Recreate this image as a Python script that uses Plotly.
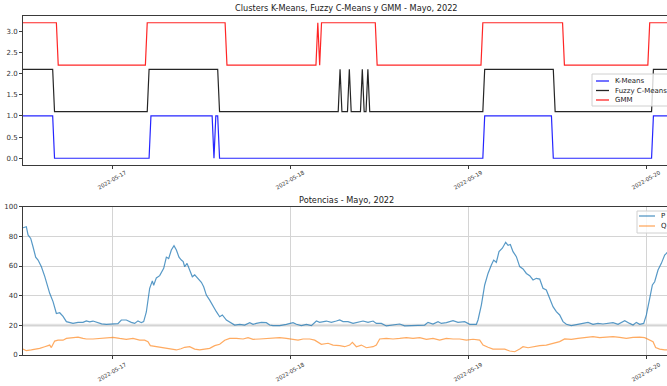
import pandas as pd
import plotly.graph_objects as go

# ---------------- data ----------------
START = "2022-05-16 12:00"
END = "2022-05-20 03:00"
FREQ = "15min"

day_ticks = ["2022-05-17", "2022-05-18", "2022-05-19", "2022-05-20"]

# cluster labels given as change points (time, new label)
kmeans_change_times = ["2022-05-16 12:00", "2022-05-16 16:15", "2022-05-17 05:15",
                       "2022-05-17 13:45", "2022-05-17 14:00", "2022-05-17 14:30",
                       "2022-05-19 02:15", "2022-05-19 11:30", "2022-05-20 01:00"]
kmeans_labels = [1, 0, 1, 0, 1, 0, 1, 0, 1]

fuzzy_change_times = ["2022-05-16 12:00", "2022-05-16 16:15", "2022-05-17 05:00",
                      "2022-05-17 14:30", "2022-05-18 06:45", "2022-05-18 07:00",
                      "2022-05-18 08:00", "2022-05-18 08:15", "2022-05-18 09:45",
                      "2022-05-18 10:00", "2022-05-18 10:30", "2022-05-18 10:45",
                      "2022-05-19 02:15", "2022-05-19 11:45", "2022-05-20 01:00"]
fuzzy_labels = [1, 0, 1, 0, 1, 0, 1, 0, 1, 0, 1, 0, 1, 0, 1]

gmm_change_times = ["2022-05-16 12:00", "2022-05-16 16:45", "2022-05-17 04:45",
                    "2022-05-17 15:30", "2022-05-18 03:45", "2022-05-18 04:00",
                    "2022-05-18 04:15", "2022-05-18 11:45", "2022-05-19 02:00",
                    "2022-05-19 13:00", "2022-05-20 00:30"]
gmm_labels = [1, 0, 1, 0, 1, 0, 1, 0, 1, 0, 1]

kmeans_offset = 0.0
fuzzy_offset = 1.1
gmm_offset = 2.2

# power series: hours after START and values
p_hours = [0.0, 0.45, 0.68, 1.04, 1.35, 1.71, 2.03, 2.48, 2.93, 3.6, 4.05, 4.5, 4.95, 5.4,
           5.85, 6.74, 7.42, 8.09, 8.54, 8.99, 9.44, 10.1, 10.6, 11.24, 12.14, 12.8, 13.26,
           13.93, 14.6, 15.06, 15.5, 15.96, 16.27, 16.63, 17.08, 17.44, 17.62, 17.98, 18.43,
           18.97, 19.33, 19.64, 20.0, 20.36, 20.68, 21.03, 21.35, 21.6, 21.8, 22.12, 22.47,
           22.83, 23.15, 23.6, 24.05, 24.36, 24.72, 25.17, 25.62, 26.07, 26.52, 26.88, 27.42,
           28.09, 28.54, 29.22, 29.89, 30.57, 31.02, 31.46, 32.14, 32.81, 33.26, 33.71, 34.61,
           35.51, 36.41, 36.86, 37.53, 38.21, 38.88, 39.56, 40.0, 40.9, 41.58, 42.25, 42.7,
           43.15, 43.82, 44.5, 45.17, 45.85, 46.52, 47.2, 47.64, 48.32, 48.99, 49.89, 50.79,
           51.46, 52.36, 53.26, 54.16, 54.61, 55.28, 55.96, 56.41, 57.08, 57.76, 57.98, 58.65,
           59.55, 60.23, 61.13, 61.35, 61.8, 62.25, 62.7, 63.15, 63.46, 63.82, 64.18, 64.63,
           64.72, 65.08, 65.4, 65.71, 66.07, 66.52, 66.97, 67.42, 67.87, 68.32, 68.77, 69.22,
           69.67, 70.11, 70.56, 71.01, 71.46, 71.91, 72.36, 72.81, 73.26, 73.93, 74.83, 75.51,
           76.18, 76.85, 77.53, 78.2, 78.88, 79.55, 80.23, 81.13, 81.8, 82.25, 82.7, 83.15,
           83.69, 84.05, 84.5, 84.86, 85.17, 85.62, 86.07, 86.52, 86.75, 87.0]
p_values = [85.8, 86.5, 81, 78.6, 73, 66, 64, 59.5, 53, 41.6, 36, 28, 28.5, 26,
            22.5, 21.3, 22, 22, 23, 22.4, 22.9, 22, 21, 20.7, 20.7, 21.1, 23.6,
            23.6, 22, 21.3, 23, 21.8, 22.5, 29, 45, 50, 47, 52, 53.5,
            58.4, 66, 65, 70.8, 73.7, 70.8, 66, 64, 63, 59.5, 61.8, 57.3,
            52.8, 54, 51.7, 49, 46, 40.4, 37, 32.6, 29.2, 25.8, 27, 23.6,
            21.3, 20.2, 20.7, 20.2, 21.8, 20.7, 21.3, 22, 21.8, 20.2, 19.8, 19.8,
            20.7, 21.8, 20.7, 19.8, 20.7, 19.8, 22.9, 22, 22.9, 22, 22.9, 23.6,
            22.5, 22.5, 21.3, 22, 22.9, 22, 22.9, 21.3, 21.3, 19.6, 20.2, 20.9,
            19.6, 19.8, 20.2, 20.2, 22, 20.9, 22.5, 21.3, 21.8, 22.5, 23.1, 22,
            22.5, 20.7, 20.7, 23.6, 33.7, 47.2, 55, 60.7, 64, 62.5, 69.7, 72,
            73, 76, 74, 74.5, 69.7, 66.3, 59.6, 58, 55, 53.5, 50.6, 51.7,
            51.2, 45, 43.8, 38.2, 32.6, 29.2, 27, 22.5, 20.7, 19.8, 20.7, 21.3,
            22, 20.7, 21.3, 20.9, 21.3, 21.8, 20.7, 23.1, 21.3, 20.2, 22, 20.7,
            21.3, 27, 38.2, 47.2, 49.4, 57.3, 61.8, 67.4, 68.5, 70]

q_hours = [0.0, 0.45, 1.12, 1.8, 2.25, 2.93, 3.6, 3.82, 4.27, 4.72, 5.4, 5.85, 6.74, 7.42,
           8.09, 8.54, 9.44, 10.33, 11.24, 12.14, 13.03, 13.93, 14.83, 15.73, 16.4, 16.85,
           17.17, 17.98, 18.88, 19.78, 20.68, 21.3, 21.8, 22.47, 23.15, 23.82, 24.5, 25.17,
           25.85, 26.52, 27.2, 27.87, 28.77, 29.67, 30.34, 31.02, 31.92, 32.81, 33.71, 34.61,
           35.51, 36.41, 37.08, 37.76, 38.66, 39.33, 39.78, 40.23, 41.13, 41.8, 42.7, 43.37,
           44.05, 44.41, 44.95, 45.62, 46.3, 47.2, 47.64, 48.09, 48.99, 49.89, 50.79, 51.69,
           52.59, 53.49, 54.39, 55.28, 56.18, 57.08, 57.98, 58.88, 59.78, 60.68, 61.58, 62.03,
           62.7, 63.37, 64.27, 64.95, 65.62, 66.3, 66.97, 67.42, 68.1, 68.77, 69.67, 70.56,
           71.46, 72.36, 73.03, 73.93, 74.83, 75.51, 76.18, 76.85, 77.75, 78.65, 79.55, 80.45,
           81.35, 82.25, 83.15, 83.82, 84.5, 84.95, 85.3, 85.84, 86.52, 87.0]
q_values = [4, 2.9, 3.4, 3.8, 4.5, 5.6, 6.7, 5, 9.4, 10, 10, 11.2, 11.9, 12.1,
            11.2, 10.8, 10.8, 11.2, 11.5, 11.9, 11.2, 10.6, 11.2, 10, 10, 9,
            6.3, 5.6, 5.2, 4, 3.4, 4.2, 5.2, 5.6, 4, 3.4, 4, 4.5,
            6.3, 7.2, 10, 11.2, 11.2, 10.8, 11.7, 10.6, 10.8, 11.2, 11.7, 11.7,
            11.2, 10.8, 10, 10.8, 10.8, 10, 8.5, 7.2, 7.9, 6.7, 6.3, 5.6,
            6.7, 8.5, 5.6, 6.7, 4.9, 5.6, 6.7, 10.8, 11.2, 10.8, 11.2, 11.7,
            11.2, 11.7, 10.6, 11.2, 10, 11.2, 10.8, 10.8, 10, 10.6, 10, 6.7,
            5.2, 4, 3.9, 4, 2.7, 2.2, 4, 5.6, 4.9, 5.6, 6.3, 6.7,
            7.9, 9, 10.8, 10.6, 11.2, 11.7, 11.7, 12.4, 11.7, 12.1, 12.4, 11.9,
            11.2, 11.9, 12.1, 11.7, 10, 9, 5, 4, 3.4, 3.4]

# ---------------- build series ----------------
idx = pd.date_range(START, END, freq=FREQ)
t0 = pd.Timestamp(START)


def step_series(times, labels, offset):
    s = pd.Series(labels, index=pd.to_datetime(times)).reindex(idx).ffill()
    return s + offset


kmeans = step_series(kmeans_change_times, kmeans_labels, kmeans_offset)
fuzzy = step_series(fuzzy_change_times, fuzzy_labels, fuzzy_offset)
gmm = step_series(gmm_change_times, gmm_labels, gmm_offset)

p_time = t0 + pd.to_timedelta(p_hours, unit="h")
q_time = t0 + pd.to_timedelta(q_hours, unit="h")

# ---------------- geometry helpers (pixels -> paper) ----------------
W, H = 667, 386
ML, MR, MT, MB = 23, 0, 16, 31
PW, PH = W - ML - MR, H - MT - MB


def X(px):
    return (px - ML) / PW


def Y(py):
    return (H - MB - py) / PH


x_end = t0 + pd.Timedelta(hours=PW / 178.0 * 24)
xrange = [t0.strftime("%Y-%m-%d %H:%M:%S"), x_end.strftime("%Y-%m-%d %H:%M:%S")]

FONT = "DejaVu Sans"
AXC = "#3a3a3a"

fig = go.Figure()
fig.add_trace(go.Scatter(x=idx, y=kmeans, mode="lines", name="K-Means",
                         line=dict(color="#0000ff", width=1.2), opacity=0.85,
                         xaxis="x", yaxis="y", showlegend=False))
fig.add_trace(go.Scatter(x=idx, y=fuzzy, mode="lines", name="Fuzzy C-Means",
                         line=dict(color="#000000", width=1.2), opacity=0.85,
                         xaxis="x", yaxis="y", showlegend=False))
fig.add_trace(go.Scatter(x=idx, y=gmm, mode="lines", name="GMM",
                         line=dict(color="#ff0000", width=1.2), opacity=0.85,
                         xaxis="x", yaxis="y", showlegend=False))
fig.add_trace(go.Scatter(x=p_time, y=p_values, mode="lines", name="P",
                         line=dict(color="#1f77b4", width=1.2), opacity=0.75,
                         xaxis="x2", yaxis="y2", showlegend=False))
fig.add_trace(go.Scatter(x=q_time, y=q_values, mode="lines", name="Q",
                         line=dict(color="#ff7f0e", width=1.2), opacity=0.65,
                         xaxis="x2", yaxis="y2", showlegend=False))

top_dom = [Y(165), 1.0]
bot_dom = [0.0, Y(206.7)]

axis_common = dict(showline=True, linecolor=AXC, linewidth=1, ticks="outside",
                   ticklen=3, tickcolor=AXC, tickwidth=1, automargin=False,
                   tickfont=dict(family=FONT, size=7, color="#333"), zeroline=False)

fig.update_layout(
    width=W, height=H,
    margin=dict(l=ML, r=MR, t=MT, b=MB, autoexpand=False),
    paper_bgcolor="white", plot_bgcolor="white",
    font=dict(family=FONT),
    xaxis=dict(domain=[0, 1], anchor="y", range=xrange, tickvals=day_ticks,
               showticklabels=False, showgrid=False, mirror=True, **axis_common),
    yaxis=dict(domain=top_dom, anchor="x", range=[-0.16, 3.36], tickvals=[0, 0.5, 1, 1.5, 2, 2.5, 3],
               tickformat=".1f", showgrid=False, **axis_common),
    xaxis2=dict(domain=[0, 1], anchor="y2", range=xrange, tickvals=day_ticks,
                showticklabels=False, showgrid=True, gridcolor="#d4d4d4", gridwidth=1,
                mirror=True, **axis_common),
    yaxis2=dict(domain=bot_dom, anchor="x2", range=[0, 100], tickvals=[0, 20, 40, 60, 80, 100],
                showgrid=True, gridcolor="#d4d4d4", gridwidth=1, **axis_common),
)

# thicker reference line at 20 in lower plot
fig.add_shape(type="line", xref="x2 domain", yref="y2", x0=0, x1=1, y0=20, y1=20,
              line=dict(color="#e3e3e3", width=3), layer="below")

# titles
fig.add_annotation(text="Clusters K-Means, Fuzzy C-Means y GMM - Mayo, 2022",
                   xref="paper", yref="paper", x=X(347), y=Y(8), showarrow=False,
                   xanchor="center", yanchor="middle",
                   font=dict(family=FONT, size=8.2, color="#222"))
fig.add_annotation(text="Potencias - Mayo, 2022",
                   xref="paper", yref="paper", x=X(347), y=Y(199.5), showarrow=False,
                   xanchor="center", yanchor="middle",
                   font=dict(family=FONT, size=8.2, color="#222"))

# rotated date tick labels
for d in day_ticks:
    for xr, yc in (("x", 180), ("x2", 372)):
        fig.add_annotation(text=d, xref=xr, yref="paper", x=d, y=Y(yc), showarrow=False,
                           textangle=-30, xanchor="center", yanchor="middle",
                           font=dict(family=FONT, size=5.5, color="#333"))


# legends (drawn to match the compact matplotlib legend)
def legend_box(x0, y0, x1, y1, entries, x_line0, x_line1, x_text, ys):
    fig.add_shape(type="rect", xref="paper", yref="paper",
                  x0=X(x0), x1=X(x1), y0=Y(y0), y1=Y(y1),
                  fillcolor="rgba(255,255,255,0.8)", line=dict(color="#d0d0d0", width=1),
                  layer="above")
    for (name, color, op), yy in zip(entries, ys):
        fig.add_shape(type="line", xref="paper", yref="paper",
                      x0=X(x_line0), x1=X(x_line1), y0=Y(yy), y1=Y(yy),
                      line=dict(color=color, width=1.3), opacity=op, layer="above")
        fig.add_annotation(text=name, xref="paper", yref="paper", x=X(x_text), y=Y(yy),
                           showarrow=False, xanchor="left", yanchor="middle",
                           font=dict(family=FONT, size=7, color="#222"))


legend_box(592, 74, 690, 106,
           [("K-Means", "#0000ff", 0.85), ("Fuzzy C-Means", "#000000", 0.85), ("GMM", "#ff0000", 0.85)],
           596, 609, 613, [81, 90.5, 100])
legend_box(637, 211, 690, 233,
           [("P", "#1f77b4", 0.75), ("Q", "#ff7f0e", 0.65)],
           639, 655, 659, [216, 226])

fig.write_html("out.html", config={"displayModeBar": False},
               post_script="document.body.style.margin='0';")
